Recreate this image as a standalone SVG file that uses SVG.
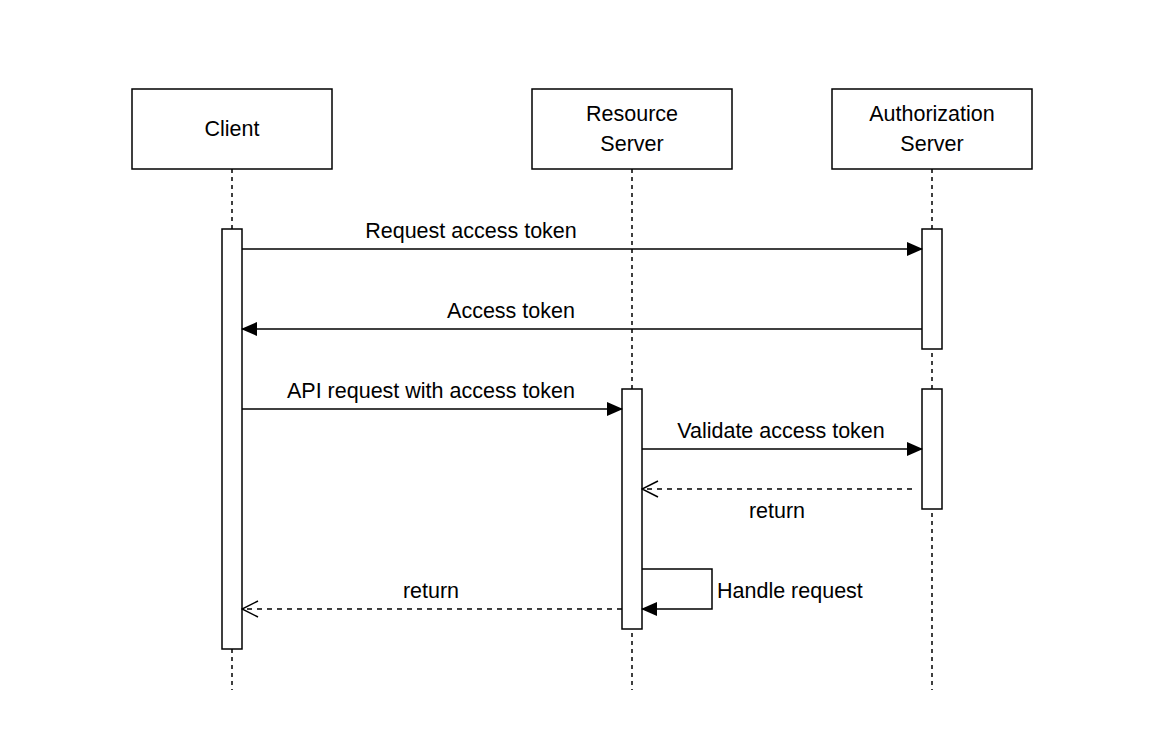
<svg xmlns="http://www.w3.org/2000/svg" width="1172" height="747" viewBox="0 0 1172 747">
<style>
.box{fill:#fff;stroke:#000;stroke-width:1.5}
.life{stroke:#000;stroke-width:1.5;stroke-dasharray:4 4;fill:none}
.act{fill:#fff;stroke:#000;stroke-width:1.5}
.msg{stroke:#000;stroke-width:1.5;fill:none}
.ret{stroke:#000;stroke-width:1.5;fill:none;stroke-dasharray:5 5}
text{font-family:"Liberation Sans",Arial,sans-serif;font-size:21.5px;fill:#000}
</style>
<defs>
<marker id="fill" markerWidth="16" markerHeight="14" refX="15" refY="7" orient="auto" markerUnits="userSpaceOnUse"><path d="M0,0 L16,7 L0,14 Z" fill="#000"/></marker>
<marker id="open" markerWidth="18" markerHeight="18" refX="17" refY="9" orient="auto" markerUnits="userSpaceOnUse"><path d="M1,1 L17,9 L1,17" fill="none" stroke="#000" stroke-width="1.5"/></marker>
</defs>
<rect width="1172" height="747" fill="#fff"/>
<g id="client"><line class="life" x1="232" y1="169" x2="232" y2="690"/><rect class="box" x="132" y="89" width="200" height="80"/><text x="232" y="136" text-anchor="middle">Client</text></g>
<g id="resource"><line class="life" x1="632" y1="169" x2="632" y2="690"/><rect class="box" x="532" y="89" width="200" height="80"/><text x="632" y="121" text-anchor="middle">Resource</text><text x="632" y="151" text-anchor="middle">Server</text></g>
<g id="auth"><line class="life" x1="932" y1="169" x2="932" y2="690"/><rect class="box" x="832" y="89" width="200" height="80"/><text x="932" y="121" text-anchor="middle">Authorization</text><text x="932" y="151" text-anchor="middle">Server</text></g>
<g id="act-client"><rect class="act" x="222" y="229" width="20" height="420"/></g>
<g id="act-auth1"><rect class="act" x="922" y="229" width="20" height="120"/></g>
<g id="act-auth2"><rect class="act" x="922" y="389" width="20" height="120"/></g>
<g id="act-resource"><rect class="act" x="622" y="389" width="20" height="240"/></g>
<g id="connectors">
<line class="msg" x1="242" y1="249" x2="922" y2="249" marker-end="url(#fill)"/>
<text x="471" y="238" text-anchor="middle">Request access token</text>
<line class="msg" x1="922" y1="329" x2="242" y2="329" marker-end="url(#fill)"/>
<text x="511" y="318" text-anchor="middle">Access token</text>
<line class="msg" x1="242" y1="409" x2="622" y2="409" marker-end="url(#fill)"/>
<text x="431" y="398" text-anchor="middle">API request with access token</text>
<line class="msg" x1="642" y1="449" x2="922" y2="449" marker-end="url(#fill)"/>
<text x="781" y="438" text-anchor="middle">Validate access token</text>
<line class="ret" x1="912" y1="489" x2="642" y2="489" marker-end="url(#open)"/>
<text x="777" y="518" text-anchor="middle">return</text>
<path class="msg" d="M642,569 L712,569 L712,609 L642,609" marker-end="url(#fill)"/>
<text x="717" y="598">Handle request</text>
<line class="ret" x1="622" y1="609" x2="242" y2="609" marker-end="url(#open)"/>
<text x="431" y="598" text-anchor="middle">return</text>
</g>
</svg>
